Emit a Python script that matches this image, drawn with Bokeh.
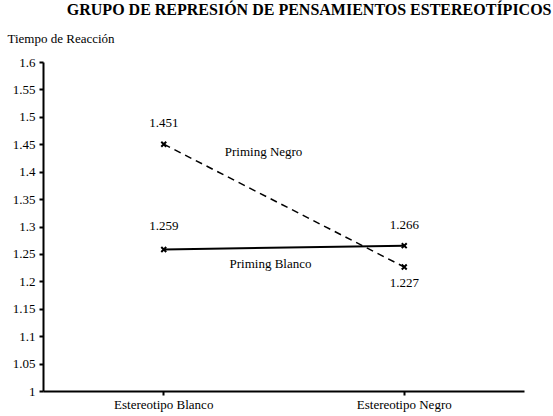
from bokeh.plotting import figure
from bokeh.models import FactorRange, Range1d, FixedTicker, Label, ColumnDataSource, Title
from bokeh.core.properties import value
from bokeh.embed import file_html
from bokeh.resources import INLINE

categories = ["Estereotipo Blanco", "Estereotipo Negro"]
priming_negro = [1.451, 1.227]
priming_blanco = [1.259, 1.266]
y_ticks = [1.0, 1.05, 1.1, 1.15, 1.2, 1.25, 1.3, 1.35, 1.4, 1.45, 1.5, 1.55, 1.6]
y_tick_labels = ["1", "1.05", "1.1", "1.15", "1.2", "1.25", "1.3", "1.35", "1.4", "1.45", "1.5", "1.55", "1.6"]
title_text = "GRUPO DE REPRESIÓN DE PENSAMIENTOS ESTEREOTÍPICOS"
y_title = "Tiempo de Reacción"

FONT = "'Liberation Serif', 'Times New Roman', serif"

p = figure(x_range=FactorRange(*categories, range_padding=0), y_range=Range1d(1.0, 1.6),
           frame_width=481, frame_height=329, output_backend="svg", toolbar_location=None,
           min_border_left=43, min_border_right=29, min_border_top=62, min_border_bottom=20)
p.outline_line_color = None
p.xgrid.grid_line_color = None
p.ygrid.grid_line_color = None
p.background_fill_color = "white"

for ax in (p.xaxis[0], p.yaxis[0]):
    ax.axis_line_width = 2
    ax.axis_line_color = "black"
    ax.major_tick_line_width = 2
    ax.major_tick_line_color = "black"
    ax.major_tick_out = 4
    ax.major_tick_in = 0
    ax.minor_tick_line_color = None
    ax.major_label_text_font = FONT
    ax.major_label_text_font_size = "13px"
    ax.major_label_text_color = "black"

p.yaxis.ticker = FixedTicker(ticks=y_ticks)
p.yaxis.major_label_overrides = {t: l for t, l in zip(y_ticks, y_tick_labels)}
p.yaxis.major_label_standoff = 4
p.xaxis.major_label_standoff = 1

# series
p.line(categories, priming_negro, line_color="black", line_width=1.5, line_dash="7 5")
p.line(categories, priming_blanco, line_color="black", line_width=2)
p.scatter(categories, priming_negro, marker="x", size=7, line_color="black", line_width=2)
p.scatter(categories, priming_blanco, marker="x", size=7, line_color="black", line_width=2)

# value labels
lab_src = ColumnDataSource(dict(
    x=categories + categories,
    y=priming_negro + priming_blanco,
    text=[f"{v:.3f}" for v in priming_negro + priming_blanco],
    yo=[-21, 16, -23, -21],
))
p.text(x="x", y="y", text="text", y_offset="yo", source=lab_src,
       text_font=value(FONT), text_font_size="13px", text_color="black",
       text_align="center", text_baseline="middle")

p.add_layout(Label(x=0.915, y=1.437, text="Priming Negro", text_font=FONT, text_font_size="13px",
                   text_align="center", text_baseline="middle", text_color="black"))
p.add_layout(Label(x=0.944, y=1.233, text="Priming Blanco", text_font=FONT, text_font_size="13px",
                   text_align="center", text_baseline="middle", text_color="black"))

p.add_layout(Title(text=y_title, align="left", offset=-36, text_font=FONT, text_font_size="13px",
                   text_font_style="normal", text_color="black", standoff=34), "above")
p.add_layout(Title(text=title_text, align="right", offset=-27, text_font=FONT, text_font_size="16px",
                   text_font_style="bold", text_color="black", standoff=-13), "above")

open("out.html", "w").write(file_html(p, INLINE))
